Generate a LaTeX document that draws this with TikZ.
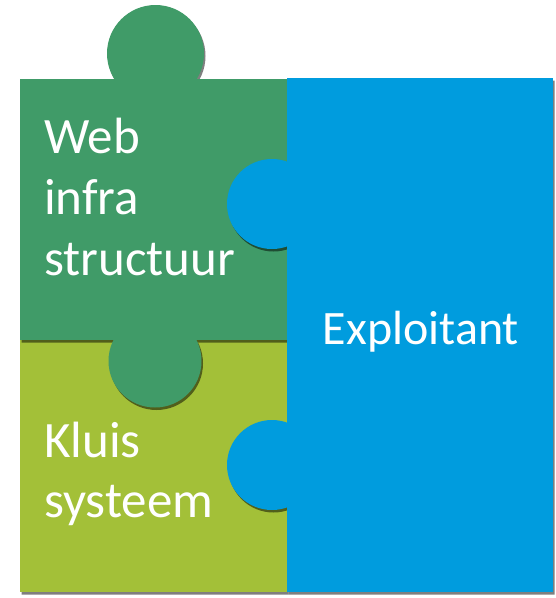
\documentclass[tikz,border=0pt]{standalone}
\usepackage{fontspec}
\setmainfont{Carlito}
\usepackage{tikz}
\usetikzlibrary{positioning}

\definecolor{webgreen}{RGB}{64,155,104}
\definecolor{kluislime}{RGB}{163,192,56}
\definecolor{exploitblue}{RGB}{0,156,222}

\tikzset{
	piecetext/.style={text=white, inner sep=0pt, align=left, font=\fontsize{51}{61}\selectfont},
	pieceshadow/.style={transparency group, opacity=0.5, shift={(1.5,2.5)}},
}

\begin{document}
\begin{tikzpicture}[x=1pt, y=-1pt]

	\useasboundingbox (0,0) rectangle (556,598);

	\begin{scope}[pieceshadow]
		\fill[black] (20,340) rectangle (287,592);
	\end{scope}
	\fill[kluislime] (20,340) rectangle (287,592);

	\begin{scope}[pieceshadow]
		\fill[black] (20,79) rectangle (287,340);
		\fill[black] (155.5,53.5) circle (48.5);
		\fill[black] (155,361) circle (46.5);
	\end{scope}
	\fill[webgreen] (20,79) rectangle (287,340);
	\fill[webgreen] (155.5,53.5) circle (48.5);
	\fill[webgreen] (155,361) circle (46.5);

	\begin{scope}[pieceshadow]
		\fill[black] (287,78) rectangle (553,592);
		\fill[black] (272,204) circle (45);
		\fill[black] (272,465) circle (45);
	\end{scope}
	\fill[exploitblue] (287,78) rectangle (553,592);
	\fill[exploitblue] (272,204) circle (45);
	\fill[exploitblue] (272,465) circle (45);

	\node[piecetext, anchor=base west] (web) at (44,275) {Web\\infra\\structuur};
	\node[piecetext, anchor=base west, font=\fontsize{51}{60}\selectfont] (kluis) at (44,517) {Kluis\\systeem};
	\node[piecetext, anchor=base, font=\fontsize{48}{58}\selectfont] (exploitant) at (421,344) {Exploitant};

\end{tikzpicture}
\end{document}
